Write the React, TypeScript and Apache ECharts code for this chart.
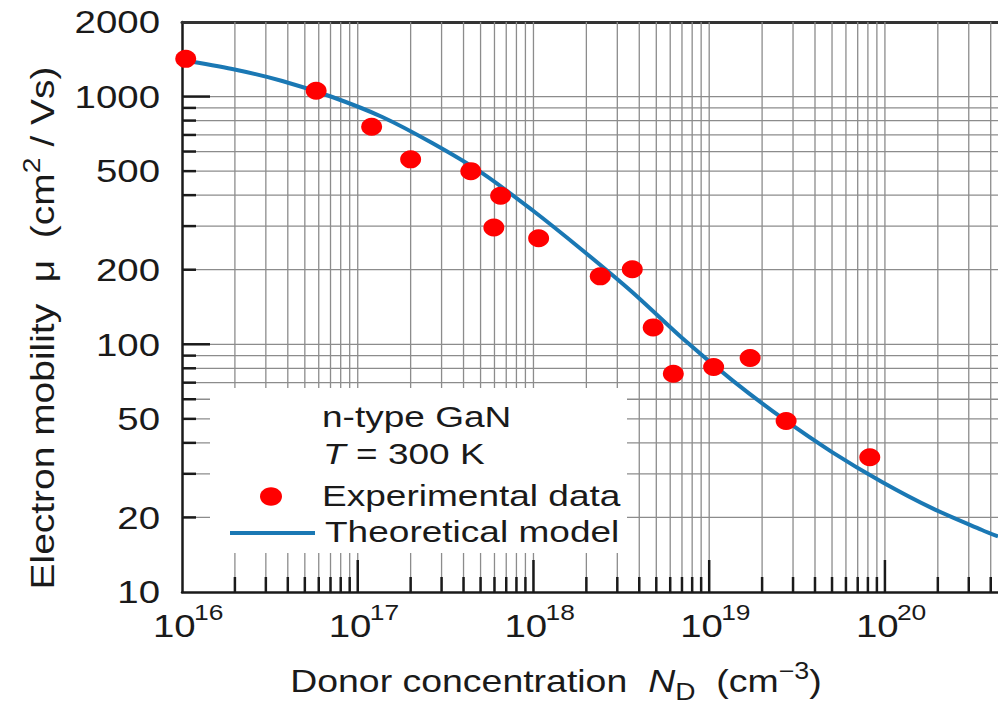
import React, { useEffect, useRef } from 'react';
import * as echarts from 'echarts';

// ---- axis ranges ----
const XMIN = 1e16;
const XMAX = 4.4e20;
const YMIN = 10;
const YMAX = 2000;

// ---- tick structure ----
const xDecadeExponents = [16, 17, 18, 19, 20];
const minorMultipliers = [2, 3, 4, 5, 6, 7, 8, 9];
const yMajorValues = [100, 1000];
const yMinorValues = [20, 30, 40, 50, 60, 70, 80, 90, 200, 300, 400, 500, 600, 700, 800, 900];
const yTickLabels = [10, 20, 50, 100, 200, 500, 1000, 2000];

// ---- experimental data ----
const expN = [1.05e16, 5.8e16, 1.2e17, 2.0e17, 4.4e17, 6.5e17, 5.95e17, 1.07e18, 2.4e18, 3.65e18, 4.8e18, 6.25e18, 1.06e19, 1.71e19, 2.74e19, 8.2e19];
const expMu = [1420, 1056, 755, 558, 500, 398, 296, 268, 188, 201, 117, 76, 81, 88, 49, 35];

// ---- theoretical model ----
const modelN = [1e16, 1.932e16, 3.72e16, 7.16e16, 1.379e17, 2.653e17, 5.109e17, 9.83e17, 1.892e18, 3.642e18, 7.013e18, 1.35e19, 2.598e19, 5.002e19, 9.627e19, 1.853e20, 3.567e20, 4.4e20];
const modelMu = [1405, 1292, 1156, 996, 827, 649, 491, 348.4, 240.3, 162.6, 106.0, 71.7, 50.4, 36.7, 27.8, 21.8, 17.8, 16.75];

// ---- legend texts ----
const legendTitle = 'n-type GaN';
const legendTempVar = 'T';
const legendTempText = '= 300 K';
const legendExp = 'Experimental data';
const legendModel = 'Theoretical model';

const FONT_FAMILY = '"Liberation Sans", Arial, Helvetica, sans-serif';
const TEXT_COLOR = '#1a1a1a';
const GRID_COLOR = '#8c8c8c';
const AXIS_COLOR = '#1a1a1a';
const RED = '#ff0000';
const BLUE = '#1a78b4';
const SX = 1.2;
const LEGEND_SX = 1.235;

let measureCtx: CanvasRenderingContext2D | null = null;
function fontOf(size: number, italic?: boolean) {
  return `${italic ? 'italic ' : ''}${size}px ${FONT_FAMILY}`;
}
function measure(text: string, font: string): number {
  if (!measureCtx) measureCtx = document.createElement('canvas').getContext('2d');
  if (!measureCtx) return text.length * 10;
  measureCtx.font = font;
  return measureCtx.measureText(text).width;
}

type Piece = { t: string; size: number; italic?: boolean; dy?: number };

function textEl(text: string, x: number, yCenter: number, size: number, align: string, italic?: boolean, extra: any = {}) {
  return {
    type: 'text',
    x,
    y: yCenter,
    ...extra,
    style: {
      text,
      font: fontOf(size, italic),
      fill: TEXT_COLOR,
      textAlign: align,
      textVerticalAlign: 'middle',
      align,
      verticalAlign: 'middle',
    },
  };
}

// builds a row of text pieces sharing a baseline (local y = 0)
function pieceRow(pieces: Piece[], x: number, y: number, center: boolean, scaleX: number, rotation = 0, z = 6) {
  const widths = pieces.map((p) => measure(p.t, fontOf(p.size, p.italic)));
  const total = widths.reduce((a, b) => a + b, 0);
  let cx = center ? -total / 2 : 0;
  const children = pieces.map((p, i) => {
    const el = textEl(p.t, cx, (p.dy || 0) - 0.3465 * p.size, p.size, 'left', p.italic, { z });
    cx += widths[i];
    return el;
  });
  return { type: 'group', x, y, scaleX, rotation, z, children };
}

function buildOption() {
  const vGrid: number[][] = [];
  const xMinorTicks: number[][] = [];
  xDecadeExponents.forEach((e) => {
    const dec = Math.pow(10, e);
    if (dec > XMIN && dec <= XMAX) {
      vGrid.push([dec, YMIN]);
      xMinorTicks.push([dec, YMIN, 1]);
    }
    minorMultipliers.forEach((m) => {
      const v = m * dec;
      if (v > XMIN && v <= XMAX) {
        vGrid.push([v, YMIN]);
        xMinorTicks.push([v, YMIN, 0]);
      }
    });
  });
  const hGrid = [...yMinorValues, ...yMajorValues].map((v) => [XMIN, v]);
  const yTicks = [
    ...yMajorValues.map((v) => [XMIN, v, 1]),
    ...yMinorValues.map((v) => [XMIN, v, 0]),
  ];

  const legendItems: any[] = [
    { type: 'rect', z: 5, shape: { x: 210, y: 388, width: 417, height: 165 }, style: { fill: '#ffffff' } },
    pieceRow([{ t: legendTitle, size: 30 }], 322, 427, false, LEGEND_SX),
    pieceRow([{ t: legendTempVar, size: 30, italic: true }], 323, 464, false, LEGEND_SX),
    pieceRow([{ t: legendTempText, size: 30 }], 356, 464, false, LEGEND_SX),
    { type: 'ellipse', z: 6, shape: { cx: 271, cy: 496.5, rx: 11, ry: 9.2 }, style: { fill: RED } },
    pieceRow([{ t: legendExp, size: 30 }], 322, 506, false, LEGEND_SX),
    { type: 'line', z: 6, shape: { x1: 230, y1: 533, x2: 315, y2: 533 }, style: { stroke: BLUE, lineWidth: 4 } },
    pieceRow([{ t: legendModel, size: 30 }], 325, 542, false, LEGEND_SX),
    // axis titles
    pieceRow(
      [
        { t: 'Donor concentration  ', size: 32 },
        { t: 'N', size: 32, italic: true },
        { t: 'D', size: 24, dy: 8 },
        { t: '  (cm', size: 32 },
        { t: '\u22123', size: 23, dy: -13 },
        { t: ')', size: 32 },
      ],
      556,
      692,
      true,
      1.17
    ),
    pieceRow(
      [
        { t: 'Electron mobility  \u03bc  (cm', size: 33 },
        { t: '2', size: 24, dy: -14 },
        { t: ' / Vs)', size: 33 },
      ],
      54,
      328,
      true,
      1.18,
      Math.PI / 2
    ),
  ];

  return {
    animation: false,
    backgroundColor: '#ffffff',
    grid: { left: 182, top: 22, width: 816, height: 570, containLabel: false },
    xAxis: [
      {
        type: 'log',
        logBase: 10,
        min: XMIN,
        max: XMAX,
        axisLine: { show: true, lineStyle: { color: AXIS_COLOR, width: 2.5 } },
        axisTick: { show: false },
        axisLabel: { show: false },
        splitLine: { show: false },
      },
      {
        type: 'log',
        logBase: 10,
        position: 'top',
        min: XMIN,
        max: XMAX,
        axisLine: { show: true, lineStyle: { color: '#333333', width: 3 } },
        axisTick: { show: false },
        axisLabel: { show: false },
        splitLine: { show: false },
      },
    ],
    yAxis: {
      type: 'log',
      logBase: 10,
      min: YMIN,
      max: YMAX,
      axisLine: { show: true, lineStyle: { color: AXIS_COLOR, width: 2.5 } },
      axisTick: { show: false },
      axisLabel: { show: false },
      splitLine: { show: false },
    },
    graphic: { elements: legendItems },
    series: [
      {
        type: 'custom',
        name: 'vgrid',
        z: 1,
        silent: true,
        data: vGrid,
        renderItem: (params: any, api: any) => {
          const p0 = api.coord([api.value(0), YMIN]);
          const p1 = api.coord([api.value(0), YMAX]);
          return { type: 'line', shape: { x1: p0[0], y1: p0[1], x2: p1[0], y2: p1[1] }, style: { stroke: GRID_COLOR, lineWidth: 1.3 } };
        },
      },
      {
        type: 'custom',
        name: 'hgrid',
        z: 1,
        silent: true,
        data: hGrid,
        renderItem: (params: any, api: any) => {
          const p0 = api.coord([XMIN, api.value(1)]);
          const p1 = api.coord([XMAX, api.value(1)]);
          return { type: 'line', shape: { x1: p0[0], y1: p0[1], x2: p1[0], y2: p1[1] }, style: { stroke: GRID_COLOR, lineWidth: 1.3 } };
        },
      },
      {
        type: 'custom',
        name: 'xticks',
        z: 7,
        silent: true,
        data: xMinorTicks,
        renderItem: (params: any, api: any) => {
          const p = api.coord([api.value(0), YMIN]);
          const len = api.value(2) ? 32 : 15;
          return { type: 'line', shape: { x1: p[0], y1: p[1], x2: p[0], y2: p[1] - len }, style: { stroke: AXIS_COLOR, lineWidth: 2.5 } };
        },
      },
      {
        type: 'custom',
        name: 'yticks',
        z: 7,
        silent: true,
        data: yTicks,
        renderItem: (params: any, api: any) => {
          const p = api.coord([XMIN, api.value(1)]);
          const len = api.value(2) ? 28 : 14;
          return { type: 'line', shape: { x1: p[0], y1: p[1], x2: p[0] + len, y2: p[1] }, style: { stroke: AXIS_COLOR, lineWidth: 2.5 } };
        },
      },
      {
        type: 'custom',
        name: 'ylabels',
        z: 7,
        silent: true,
        data: yTickLabels.map((v) => [XMIN, v]),
        renderItem: (params: any, api: any) => {
          const v = api.value(1);
          const p = api.coord([XMIN, v]);
          return textEl(String(v), p[0] - 22, p[1], 32, 'right', false, { scaleX: SX });
        },
      },
      {
        type: 'custom',
        name: 'xlabels',
        z: 7,
        silent: true,
        data: xDecadeExponents.map((e) => [Math.pow(10, e), YMIN, e]),
        renderItem: (params: any, api: any) => {
          const p = api.coord([api.value(0), YMIN]);
          const e = api.value(2);
          return {
            type: 'group',
            children: [
              textEl('10', p[0] - 29, p[1] + 45 - 0.3465 * 32, 32, 'left', false, { scaleX: SX }),
              textEl(String(e), p[0] + 12, p[1] + 28 - 0.3465 * 22, 22, 'left', false, { scaleX: SX }),
            ],
          };
        },
      },
      {
        type: 'line',
        name: 'Theoretical model',
        z: 8,
        data: modelN.map((n, i) => [n, modelMu[i]]),
        smooth: 0.3,
        showSymbol: false,
        symbol: 'none',
        lineStyle: { color: BLUE, width: 4 },
        itemStyle: { color: BLUE },
      },
      {
        type: 'scatter',
        name: 'Experimental data',
        z: 10,
        data: expN.map((n, i) => [n, expMu[i]]),
        symbol: 'circle',
        symbolSize: [21, 18],
        itemStyle: { color: RED, opacity: 1 },
      },
    ],
  };
}

export default function App() {
  const ref = useRef<HTMLDivElement>(null);
  useEffect(() => {
    if (!ref.current) return;
    const chart = echarts.init(ref.current, undefined, { renderer: 'svg' });
    chart.setOption(buildOption() as any);
    return () => chart.dispose();
  }, []);
  return (
    <div
      ref={ref}
      style={{ position: 'fixed', left: 0, top: 0, width: 998, height: 705, background: '#ffffff' }}
    />
  );
}
